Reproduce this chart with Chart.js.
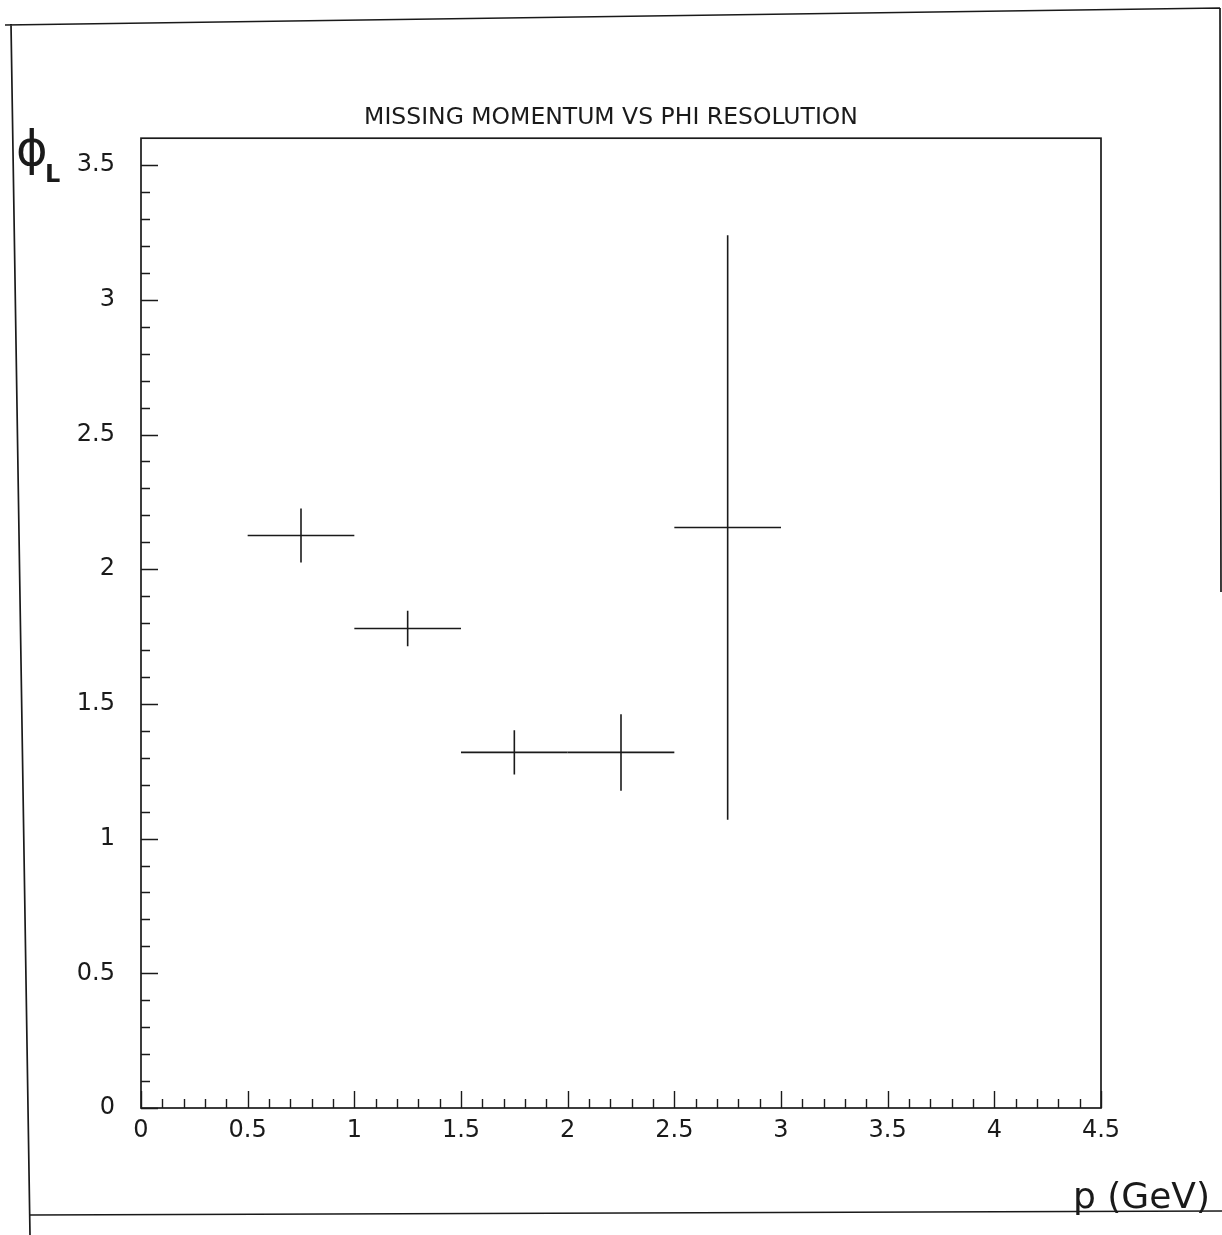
<!DOCTYPE html>
<html>
<head>
<meta charset="utf-8">
<script src="https://cdn.jsdelivr.net/npm/chart.js@4/dist/chart.umd.min.js"></script>
<style>
html,body{margin:0;padding:0;background:#fff;}
canvas{display:block;}
</style>
</head>
<body>
<canvas id="c" width="1222" height="1235"></canvas>
<script>
// ---- content ----
const chartTitle = 'MISSING MOMENTUM VS PHI RESOLUTION';
const xAxisLabel = 'p (GeV)';
const yAxisSymbol = 'ϕ';
const yAxisSubscript = 'L';

// ---- data ----
const binCenters    = [0.75, 1.25, 1.75, 2.25, 2.75];
const binHalfWidths = [0.25, 0.25, 0.25, 0.25, 0.25];
const phiResolution = [2.125, 1.78, 1.32, 1.32, 2.155];
const phiErrors     = [0.10, 0.066, 0.082, 0.142, 1.085];

// ---- axes ----
const xTickValues = [0, 0.5, 1, 1.5, 2, 2.5, 3, 3.5, 4, 4.5];
const xTickLabels = ['0', '0.5', '1', '1.5', '2', '2.5', '3', '3.5', '4', '4.5'];
const yTickValues = [0, 0.5, 1, 1.5, 2, 2.5, 3, 3.5];
const yTickLabels = ['0', '0.5', '1', '1.5', '2', '2.5', '3', '3.5'];
const xRange = [0, 4.5];
const yRange = [0, 3.6];
const minorStep = 0.1;

const INK = '#1a1a1a';
const FONT = 'DejaVu Sans';

// build error-bar segments as line datasets
const datasets = [];
binCenters.forEach((xc, i) => {
  const yv = phiResolution[i], e = phiErrors[i], hw = binHalfWidths[i];
  const style = {showLine: true, borderColor: INK, borderWidth: 1.6, pointRadius: 0, fill: false, tension: 0};
  datasets.push(Object.assign({label: 'bin ' + (i + 1) + ' width', data: [{x: xc - hw, y: yv}, {x: xc + hw, y: yv}]}, style));
  datasets.push(Object.assign({label: 'bin ' + (i + 1) + ' error', data: [{x: xc, y: yv - e}, {x: xc, y: yv + e}]}, style));
});

const pageAndFrame = {
  id: 'pageAndFrame',
  beforeDraw(chart) {
    const ctx = chart.ctx;
    ctx.save();
    ctx.fillStyle = '#fff';
    ctx.fillRect(0, 0, chart.width, chart.height);
    // scanned page border
    ctx.strokeStyle = INK;
    ctx.lineWidth = 1.7;
    ctx.beginPath();
    ctx.moveTo(5, 25); ctx.lineTo(1220, 8);
    ctx.moveTo(11, 24); ctx.lineTo(30, 1235);
    ctx.moveTo(1220, 8); ctx.lineTo(1221, 592);
    ctx.moveTo(30, 1215); ctx.lineTo(1222, 1211);
    ctx.stroke();
    ctx.restore();
  },
  afterDraw(chart) {
    const {ctx, chartArea: a, scales: {x, y}} = chart;
    ctx.save();
    ctx.strokeStyle = INK;
    ctx.lineWidth = 1.7;
    ctx.strokeRect(a.left, a.top, a.right - a.left, a.bottom - a.top);
    ctx.lineWidth = 1.4;
    ctx.beginPath();
    const ny = Math.round((yRange[1] - yRange[0]) / minorStep);
    for (let k = 0; k < ny; k++) {
      const v = yRange[0] + k * minorStep;
      const p = Math.round(y.getPixelForValue(v)) + 0.5;
      const len = (k % 5 === 0) ? 17 : 9;
      ctx.moveTo(a.left, p); ctx.lineTo(a.left + len, p);
    }
    const nx = Math.round((xRange[1] - xRange[0]) / minorStep);
    for (let k = 0; k <= nx; k++) {
      const v = xRange[0] + k * minorStep;
      const p = Math.round(x.getPixelForValue(v)) + 0.5;
      const len = (k % 5 === 0) ? 17 : 9;
      ctx.moveTo(p, a.bottom); ctx.lineTo(p, a.bottom - len);
    }
    ctx.stroke();

    // hand-written axis labels
    ctx.fillStyle = INK;
    ctx.textBaseline = 'alphabetic';
    ctx.textAlign = 'left';
    ctx.font = '48px "DejaVu Sans"';
    ctx.fillText(yAxisSymbol, 16, 165);
    ctx.font = 'bold 24px "DejaVu Sans"';
    ctx.fillText(yAxisSubscript, 45, 182);
    ctx.textAlign = 'right';
    ctx.font = '36px "DejaVu Sans"';
    ctx.fillText(xAxisLabel, 1210, 1208);
    ctx.restore();
  }
};

new Chart(document.getElementById('c').getContext('2d'), {
  type: 'scatter',
  data: {datasets},
  options: {
    responsive: false,
    animation: false,
    devicePixelRatio: 1,
    layout: {padding: {left: 0, right: 0, top: 0, bottom: 0}},
    plugins: {
      legend: {display: false},
      tooltip: {enabled: false},
      title: {
        display: true,
        text: chartTitle,
        color: INK,
        font: {family: FONT, size: 23.5, weight: 'normal', lineHeight: 1.2},
        padding: {top: 104, bottom: 6}
      }
    },
    scales: {
      x: {
        type: 'linear',
        min: xRange[0], max: xRange[1],
        afterBuildTicks: s => { s.ticks = xTickValues.map(v => ({value: v})); },
        afterFit: s => { s.height = 127; },
        ticks: {
          callback: v => xTickLabels[xTickValues.indexOf(v)],
          color: INK, font: {family: FONT, size: 24}, padding: 8,
          maxRotation: 0, autoSkip: false
        },
        grid: {display: false, drawTicks: false},
        border: {display: false}
      },
      y: {
        type: 'linear',
        position: 'left',
        min: yRange[0], max: yRange[1],
        afterBuildTicks: s => { s.ticks = yTickValues.map(v => ({value: v})); },
        afterFit: s => { s.width = 141; },
        ticks: {
          callback: v => yTickLabels[yTickValues.indexOf(v)],
          color: INK, font: {family: FONT, size: 24}, padding: 26,
          autoSkip: false
        },
        grid: {display: false, drawTicks: false},
        border: {display: false}
      },
      yRightMargin: {
        type: 'linear',
        position: 'right',
        display: true,
        min: yRange[0], max: yRange[1],
        afterFit: s => { s.width = 121; },
        ticks: {display: false},
        grid: {display: false, drawTicks: false},
        border: {display: false}
      }
    }
  },
  plugins: [pageAndFrame]
});
</script>
</body>
</html>
